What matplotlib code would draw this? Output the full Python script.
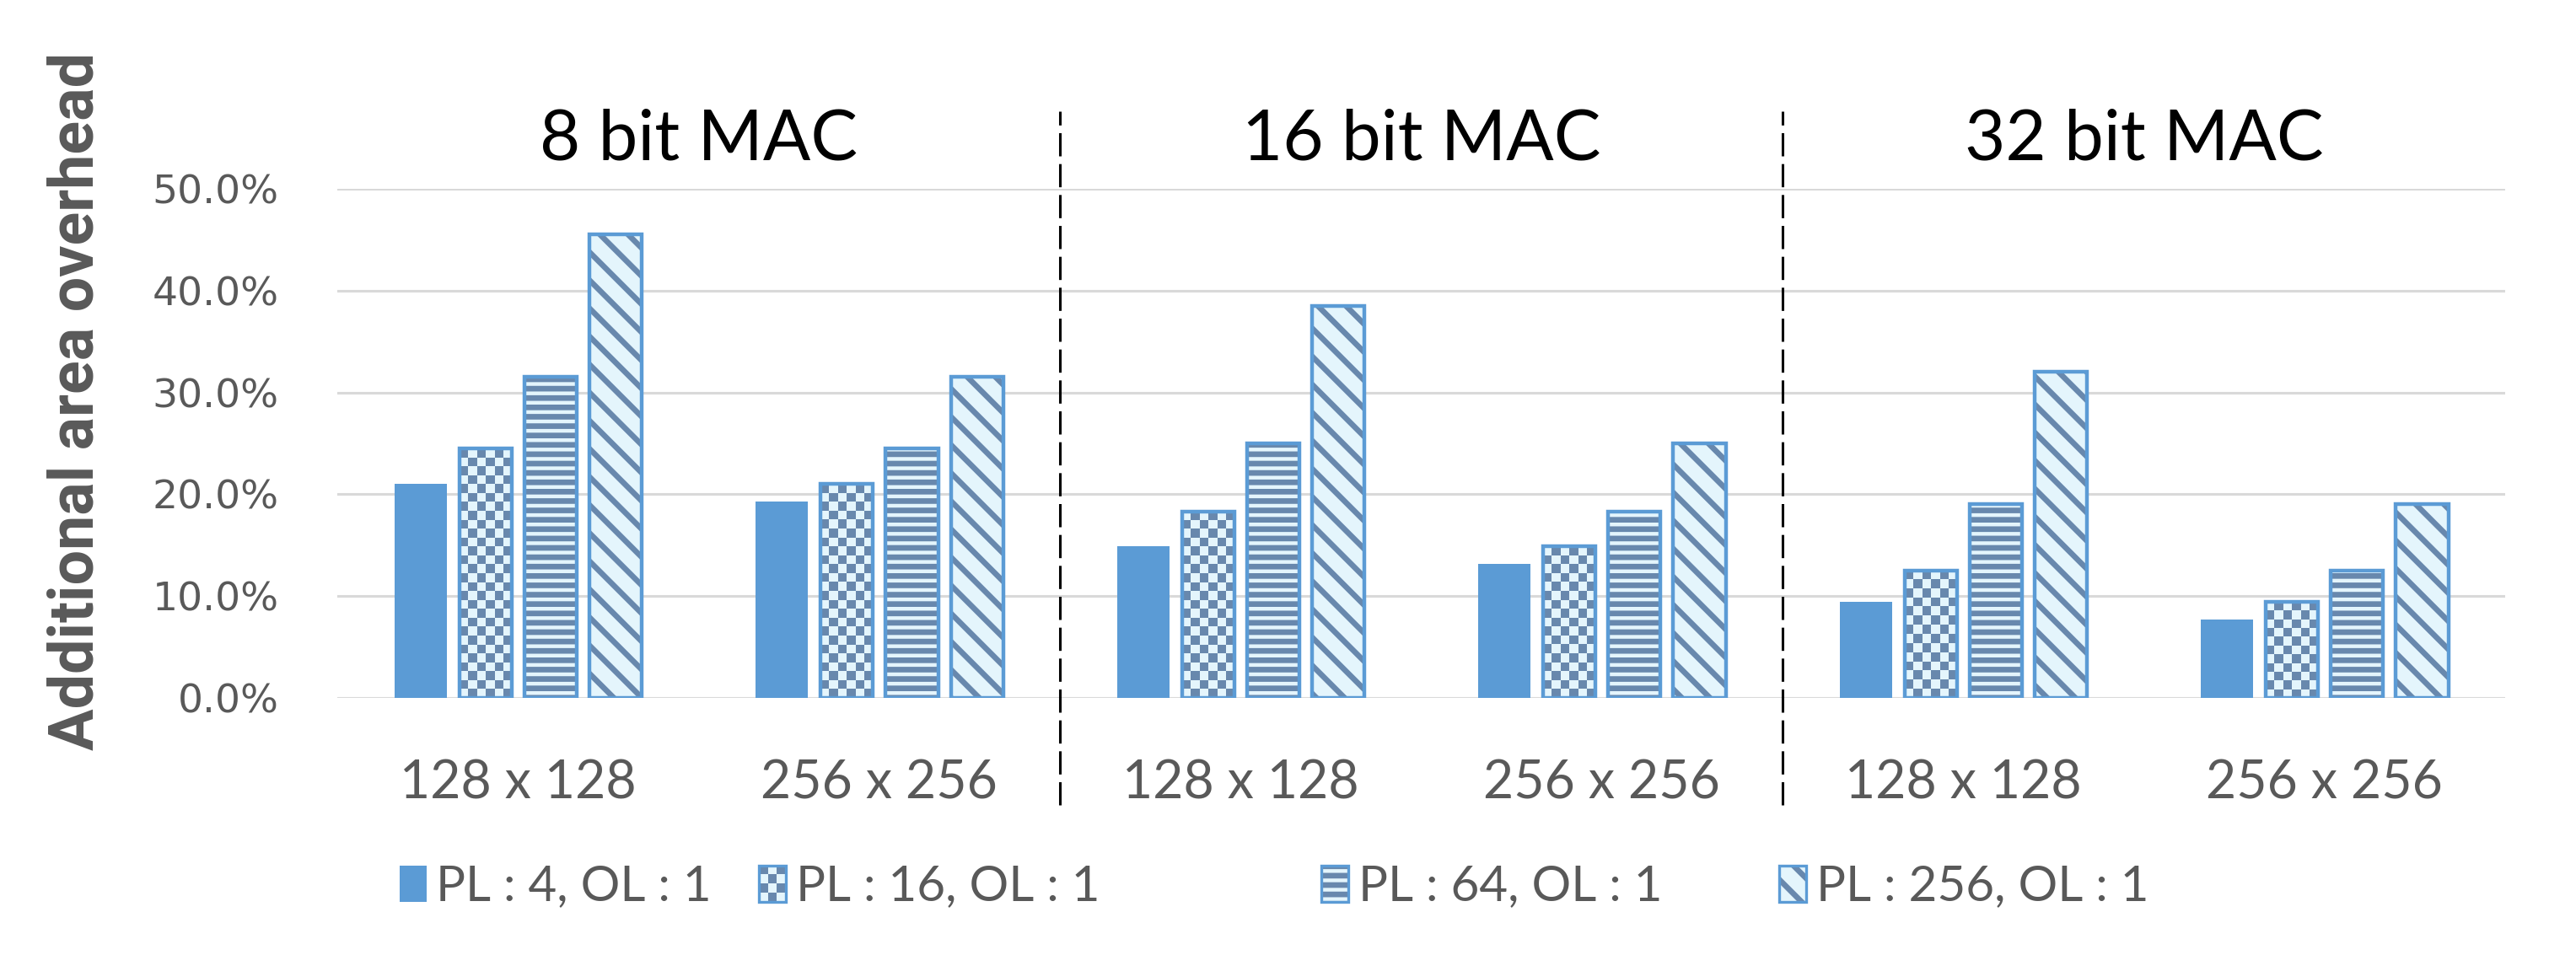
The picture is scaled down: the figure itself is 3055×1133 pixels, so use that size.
import numpy as np
import matplotlib
matplotlib.use('Agg')
import matplotlib.pyplot as plt
from matplotlib import font_manager
from matplotlib.colors import ListedColormap
from matplotlib.legend_handler import HandlerBase, HandlerTuple
from matplotlib.patches import Rectangle
from matplotlib.transforms import blended_transform_factory

# --- data (percent) ---
groups = ['8 bit MAC', '16 bit MAC', '32 bit MAC']
categories = ['128 x 128', '256 x 256', '128 x 128', '256 x 256', '128 x 128', '256 x 256']
series = ['PL : 4, OL : 1', 'PL : 16, OL : 1', 'PL : 64, OL : 1', 'PL : 256, OL : 1']
pl4 = [21.0, 19.3, 14.9, 13.2, 9.4, 7.7]
pl16 = [24.5, 21.0, 18.3, 14.9, 12.5, 9.4]
pl64 = [31.5, 24.5, 25.0, 18.3, 19.0, 12.5]
pl256 = [45.5, 31.5, 38.5, 25.0, 32.0, 19.0]
yticks = [0, 10, 20, 30, 40, 50]

BLUE = '#5B9BD5'
DARK = '#6888AD'
LIGHT = '#E4F5FC'
GRAY = '#595959'

names = {f.name for f in font_manager.fontManager.ttflist}
ylab_family = 'Liberation Sans Narrow' if 'Liberation Sans Narrow' in names else 'Roboto'

plt.rcParams['font.family'] = ['Lato', 'DejaVu Sans']
plt.rcParams['hatch.linewidth'] = 2.4

fig = plt.figure(figsize=(15.275, 5.665), dpi=200)
ax = fig.add_axes([0.131, 0.2692, 0.8415, 0.5331])
ax.set_xlim(-0.5, len(categories) - 0.5)
ax.set_ylim(0, 50)

x = np.arange(len(categories))
pitch, width = 0.18, 0.145
offsets = (np.arange(4) - 1.5) * pitch
values = [pl4, pl16, pl64, pl256]
hatches = [None, 'checker', '---', '\\\\']

# pixel size of one data unit, for the checkerboard cells
p0 = ax.transData.transform((0, 0))
p1 = ax.transData.transform((1, 1))
px_x, px_y = p1[0] - p0[0], p1[1] - p0[1]
cell = 10.5
checker_cmap = ListedColormap([LIGHT, DARK])

for k, vals in enumerate(values):
    xs = x + offsets[k]
    if hatches[k] is None:
        ax.bar(xs, vals, width, color=BLUE, linewidth=0, zorder=3)
        continue
    if hatches[k] == 'checker':
        base = ax.bar(xs, vals, width, color=LIGHT, linewidth=0, zorder=3)
        for rect in base:
            x0, w, h = rect.get_x(), rect.get_width(), rect.get_height()
            nx = max(1, int(round(w * px_x / cell)))
            ny = max(1, int(round(h * px_y / cell)))
            board = np.indices((ny, nx)).sum(axis=0) % 2
            im = ax.imshow(board, cmap=checker_cmap, extent=(x0, x0 + w, 0, h),
                           origin='lower', interpolation='nearest', aspect='auto', zorder=4)
            im.set_clip_path(rect)
    else:
        ax.bar(xs, vals, width, facecolor=LIGHT, edgecolor=DARK,
               hatch=hatches[k], linewidth=0, zorder=3)
    ax.bar(xs, vals, width, facecolor='none', edgecolor=BLUE, linewidth=1.6, zorder=5)

ax.set_xlim(-0.5, len(categories) - 0.5)
ax.set_ylim(0, 50)

# axes styling
for s in ax.spines.values():
    s.set_visible(False)
ax.yaxis.grid(True, color='#D9D9D9', linewidth=1.1)
ax.set_axisbelow(True)
ax.set_yticks(yticks)
ax.set_yticklabels([f'{v:.1f}%' for v in yticks], family='DejaVu Sans', fontsize=17, color=GRAY)
ax.set_xticks(x)
ax.set_xticklabels(categories, fontsize=22.5, color=GRAY)
ax.tick_params(axis='both', length=0)
ax.tick_params(axis='y', pad=25)
ax.tick_params(axis='x', pad=26)

# group separators and titles
for xv in [1.5, 3.5]:
    ax.axvline(xv, ymin=-0.21, ymax=1.152, color='black', linewidth=1.1,
               dashes=(9, 3), clip_on=False, zorder=6)
trans = blended_transform_factory(ax.transData, ax.transAxes)
for i, g in enumerate(groups):
    ax.text(2 * i + 0.5, 1.096, g, transform=trans, ha='center', va='center',
            fontsize=30, color='black')

fig.text(0.0295, 0.58, 'Additional area overhead', rotation=90, ha='center', va='center',
         family=ylab_family, fontweight='bold', fontsize=26.5, color=GRAY)


# legend
class CheckerHandler(HandlerBase):
    def create_artists(self, legend, orig_handle, xdescent, ydescent, width, height, fontsize, trans):
        nx, ny = 3, 4
        cw, ch = width / nx, height / ny
        arts = [Rectangle((-xdescent, -ydescent), width, height, facecolor=LIGHT,
                          edgecolor='none', transform=trans)]
        for i in range(nx):
            for j in range(ny):
                if (i + j) % 2:
                    arts.append(Rectangle((-xdescent + i * cw, -ydescent + j * ch), cw, ch,
                                          facecolor=DARK, linewidth=0, transform=trans))
        arts.append(Rectangle((-xdescent, -ydescent), width, height, facecolor='none',
                              edgecolor=BLUE, linewidth=1.2, transform=trans))
        return arts


outline = Rectangle((0, 0), 1, 1, facecolor='none', edgecolor=BLUE, linewidth=1.2)
handles = [
    Rectangle((0, 0), 1, 1, facecolor=BLUE, linewidth=0),
    Rectangle((0, 0), 1, 1, facecolor=LIGHT),
    (Rectangle((0, 0), 1, 1, facecolor=LIGHT, edgecolor=DARK, hatch='---', linewidth=0), outline),
    (Rectangle((0, 0), 1, 1, facecolor=LIGHT, edgecolor=DARK, hatch='\\\\', linewidth=0), outline),
]
legend_x = [0.155, 0.2946, 0.513, 0.6907]
for k, lab in enumerate(series):
    hmap = {tuple: HandlerTuple(ndivide=1)}
    if k == 1:
        hmap = {handles[1]: CheckerHandler()}
    fig.legend([handles[k]], [lab], loc='center left', bbox_to_anchor=(legend_x[k], 0.0715),
               frameon=False, fontsize=21, labelcolor=GRAY, handlelength=0.55, handleheight=0.75,
               handletextpad=0.2, borderpad=0, borderaxespad=0, handler_map=hmap)

fig.savefig('out.png', dpi=200, facecolor='white')
